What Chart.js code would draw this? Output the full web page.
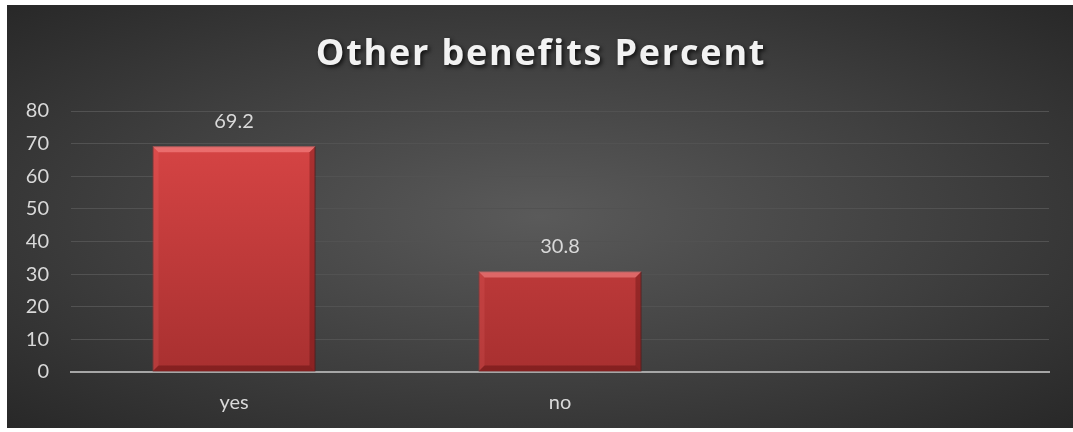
<!DOCTYPE html>
<html>
<head>
<meta charset="utf-8">
<script src="https://cdn.jsdelivr.net/npm/chart.js@4"></script>
<style>
  html, body { margin: 0; padding: 0; background: #ffffff; }
  #wrap {
    position: absolute; left: 7px; top: 5px; width: 1066px; height: 423px;
    background: radial-gradient(ellipse farthest-corner at 50% 50%, #5a5a5a 0%, #3f3f3f 55%, #282828 100%);
  }
  canvas { display: block; }
</style>
</head>
<body>
<div id="wrap"><canvas id="c"></canvas></div>
<script>
const titleText = 'Other benefits Percent';
const categories = ['yes', 'no', ''];
const percentValues = [69.2, 30.8, null];
const yTicks = [0, 10, 20, 30, 40, 50, 60, 70, 80];

const FONT = 'Lato, "Open Sans", sans-serif';

const titlePlugin = {
  id: 'customTitle',
  afterDraw(chart) {
    const ctx = chart.ctx;
    ctx.save();
    ctx.font = 'bold 36px "Open Sans", sans-serif';
    if ('letterSpacing' in ctx) ctx.letterSpacing = '1.8px';
    ctx.textAlign = 'center';
    ctx.textBaseline = 'alphabetic';
    ctx.shadowColor = 'rgba(0,0,0,0.75)';
    ctx.shadowBlur = 4;
    ctx.shadowOffsetX = 2;
    ctx.shadowOffsetY = 2;
    ctx.fillStyle = '#f2f2f2';
    ctx.fillText(titleText, chart.width / 2 + 1, 60);
    ctx.restore();
  }
};

const bevelPlugin = {
  id: 'bevel',
  afterDatasetsDraw(chart) {
    const ctx = chart.ctx;
    const meta = chart.getDatasetMeta(0);
    meta.data.forEach((bar, i) => {
      if (percentValues[i] == null) return;
      const p = bar.getProps(['x', 'y', 'base', 'width'], true);
      const l = p.x - p.width / 2, r = p.x + p.width / 2, t = p.y, b = p.base;
      const d = 6;
      ctx.save();
      ctx.fillStyle = 'rgba(255,150,150,0.5)';
      ctx.beginPath();
      ctx.moveTo(l, t); ctx.lineTo(r, t); ctx.lineTo(r - d, t + d); ctx.lineTo(l + d, t + d); ctx.closePath(); ctx.fill();
      ctx.fillStyle = 'rgba(255,120,120,0.15)';
      ctx.beginPath();
      ctx.moveTo(l, t); ctx.lineTo(l + d, t + d); ctx.lineTo(l + d, b - d); ctx.lineTo(l, b); ctx.closePath(); ctx.fill();
      ctx.fillStyle = 'rgba(60,0,0,0.28)';
      ctx.beginPath();
      ctx.moveTo(r, t); ctx.lineTo(r - d, t + d); ctx.lineTo(r - d, b - d); ctx.lineTo(r, b); ctx.closePath(); ctx.fill();
      ctx.fillStyle = 'rgba(60,0,0,0.32)';
      ctx.beginPath();
      ctx.moveTo(l, b); ctx.lineTo(l + d, b - d); ctx.lineTo(r - d, b - d); ctx.lineTo(r, b); ctx.closePath(); ctx.fill();
      ctx.restore();

      ctx.save();
      ctx.font = '20px ' + FONT;
      ctx.fillStyle = '#d9d9d9';
      ctx.textAlign = 'center';
      ctx.textBaseline = 'middle';
      ctx.fillText(String(percentValues[i]), p.x, t - 25);
      ctx.restore();
    });
  }
};

const ctx = document.getElementById('c').getContext('2d');
new Chart(ctx, {
  type: 'bar',
  data: {
    labels: categories,
    datasets: [{
      data: percentValues,
      backgroundColor(c) {
        const area = c.chart.chartArea;
        if (!area) return '#c83c3c';
        const g = c.chart.ctx.createLinearGradient(0, area.top, 0, area.bottom);
        g.addColorStop(0, '#dc4747');
        g.addColorStop(1, '#a83030');
        return g;
      },
      borderColor: '#7a2222',
      borderWidth: 1,
      barPercentage: 0.5,
      categoryPercentage: 1.0
    }]
  },
  options: {
    responsive: true,
    maintainAspectRatio: false,
    animation: false,
    layout: { padding: { top: 106, right: 24, left: 0, bottom: 0 } },
    plugins: {
      legend: { display: false },
      title: { display: false },
      tooltip: { enabled: false }
    },
    scales: {
      x: {
        grid: { display: false, drawTicks: false },
        border: { display: true, color: '#a6a6a6', width: 2 },
        ticks: { color: '#d9d9d9', font: { family: FONT, size: 20 }, padding: 19 },
        afterFit(s) { s.height = 56; }
      },
      y: {
        min: 0, max: 80,
        afterBuildTicks(s) { s.ticks = yTicks.map(v => ({ value: v })); },
        grid: { color: '#525252', lineWidth: 1, drawTicks: false },
        border: { display: false },
        ticks: { color: '#d9d9d9', font: { family: FONT, size: 20 }, padding: 22 },
        afterFit(s) { s.width = 64; }
      }
    }
  },
  plugins: [titlePlugin, bevelPlugin]
});
</script>
</body>
</html>
